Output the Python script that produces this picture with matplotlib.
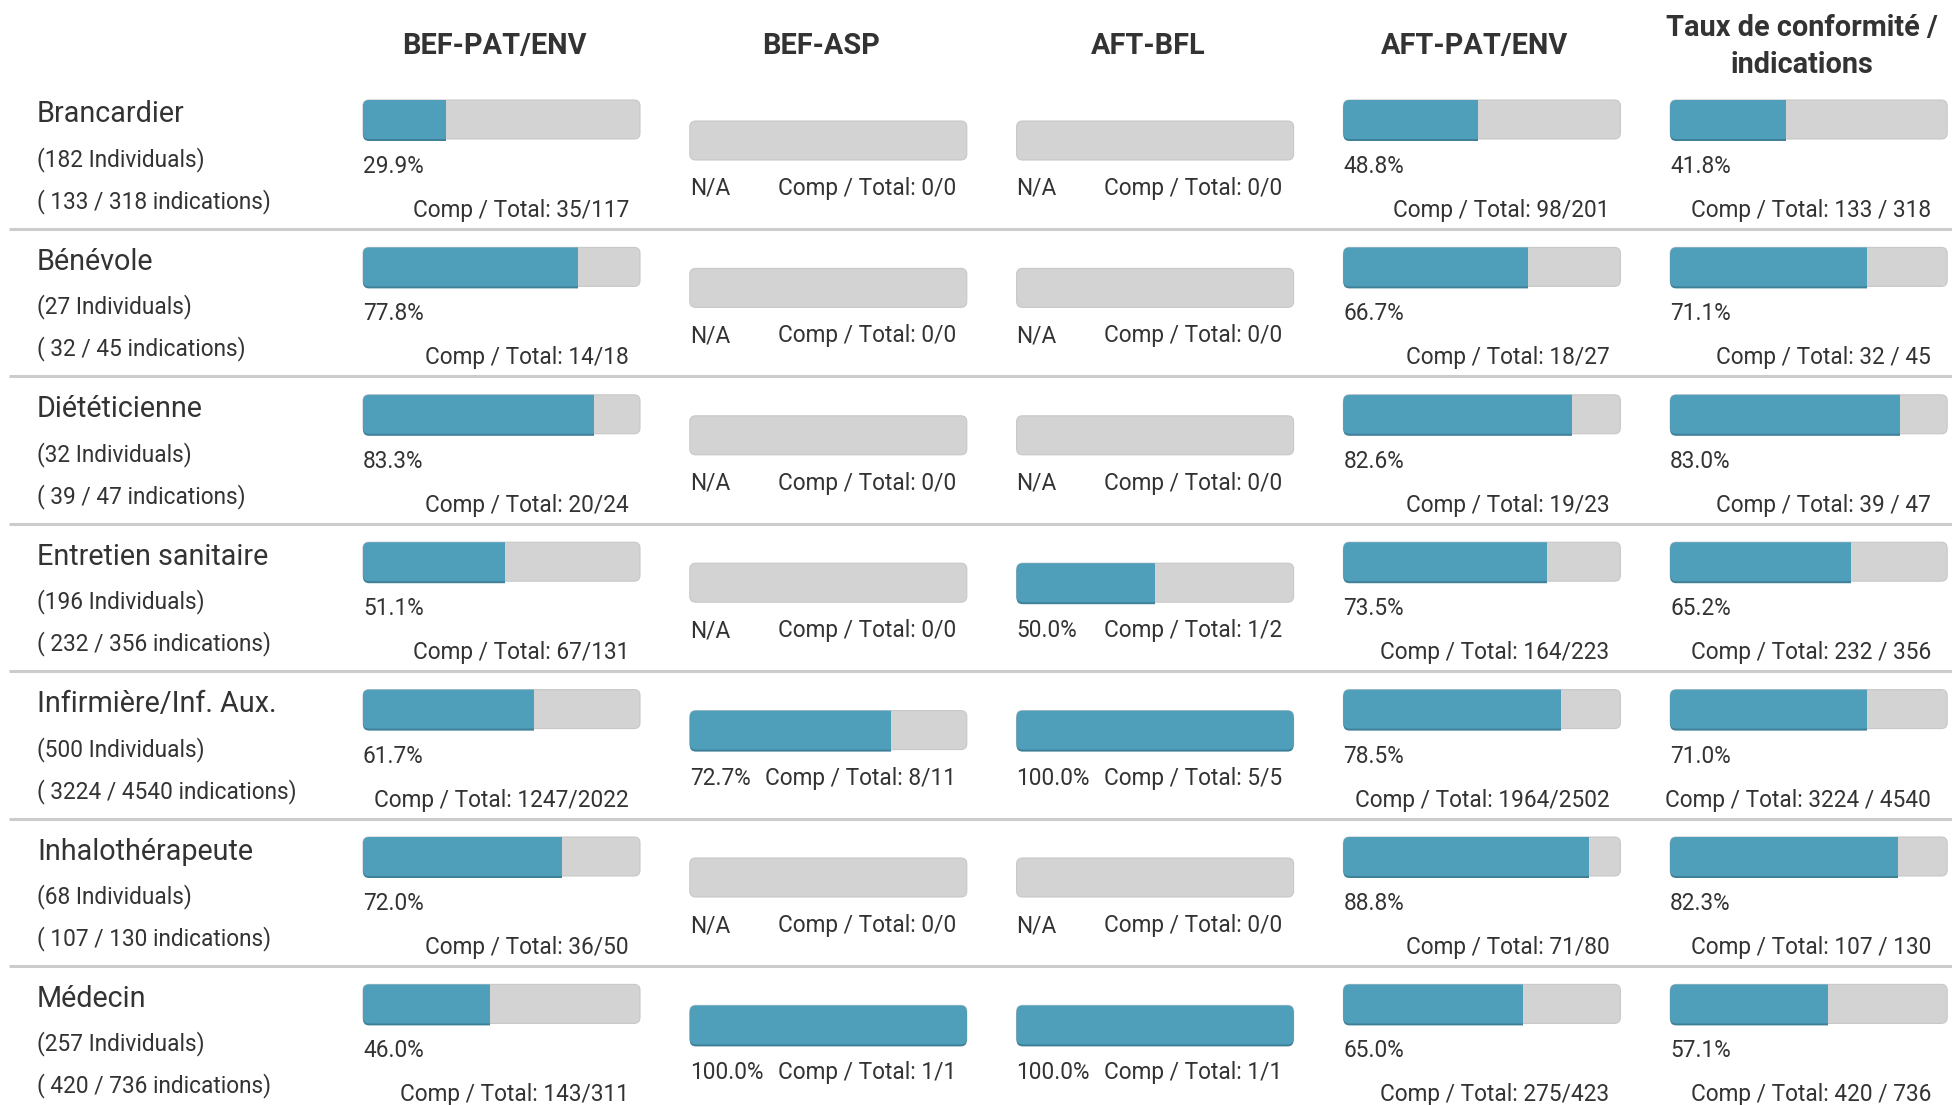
import matplotlib
matplotlib.use("Agg")
import matplotlib.pyplot as plt
from matplotlib.patches import FancyBboxPatch, Rectangle

plt.rcParams['font.family'] = ['Roboto', 'DejaVu Sans']

# données
roles = ["Brancardier", "Bénévole", "Diététicienne", "Entretien sanitaire",
         "Infirmière/Inf. Aux.", "Inhalothérapeute", "Médecin"]
individuals = [182, 27, 32, 196, 500, 68, 257]

columns = ["BEF-PAT/ENV", "BEF-ASP", "AFT-BFL", "AFT-PAT/ENV",
           "Taux de conformité /\nindications"]

bef_pat_comp = [35, 14, 20, 67, 1247, 36, 143]
bef_pat_total = [117, 18, 24, 131, 2022, 50, 311]
bef_asp_comp = [0, 0, 0, 0, 8, 0, 1]
bef_asp_total = [0, 0, 0, 0, 11, 0, 1]
aft_bfl_comp = [0, 0, 0, 1, 5, 0, 1]
aft_bfl_total = [0, 0, 0, 2, 5, 0, 1]
aft_pat_comp = [98, 18, 19, 164, 1964, 71, 275]
aft_pat_total = [201, 27, 23, 223, 2502, 80, 423]
taux_comp = [133, 32, 39, 232, 3224, 107, 420]
taux_total = [318, 45, 47, 356, 4540, 130, 736]

comps = [bef_pat_comp, bef_asp_comp, aft_bfl_comp, aft_pat_comp, taux_comp]
totals = [bef_pat_total, bef_asp_total, aft_bfl_total, aft_pat_total, taux_total]
inline_cols = [False, True, True, False, False]

W, H = 1952, 1105
fig = plt.figure(figsize=(W / 100, H / 100), dpi=100)
ax = fig.add_axes([0, 0, 1, 1])
ax.set_xlim(0, W)
ax.set_ylim(H, 0)
ax.axis('off')

txt = '#333333'
blue = '#4f9fbb'
blue_dark = '#3f8099'
grey = '#d3d3d3'
fs_small = 16.3

row_top0, row_h = 82, 147.4
col_left0, col_step, bar_w, bar_h = 363, 326.8, 277, 39
comp_pad = [11, 11, 11, 11, 16]

# en-têtes
for c, name in enumerate(columns):
    cx = col_left0 + c * col_step + bar_w / 2 - 7
    ax.text(cx, 46.5, name, ha='center', va='center', fontsize=20.8,
            fontweight='bold', color=txt, linespacing=1.45)


def draw_bar(x, y, frac):
    bg = FancyBboxPatch((x, y), bar_w, bar_h, boxstyle="round,pad=0,rounding_size=6",
                        fc=grey, ec='#c8c8c8', lw=0.8, zorder=2)
    ax.add_patch(bg)
    if frac > 0:
        # ombre en bas de la barre
        sh = FancyBboxPatch((x, y + 2), bar_w, bar_h, boxstyle="round,pad=0,rounding_size=6",
                            fc=blue_dark, ec='none', zorder=3)
        fg = FancyBboxPatch((x, y), bar_w, bar_h, boxstyle="round,pad=0,rounding_size=6",
                            fc=blue, ec='none', zorder=4)
        clip = Rectangle((x - 1, y - 1), bar_w * frac + 1, bar_h + 4, transform=ax.transData)
        ax.add_patch(sh)
        ax.add_patch(fg)
        sh.set_clip_path(clip)
        fg.set_clip_path(clip)


for r, role in enumerate(roles):
    y0 = row_top0 + r * row_h
    ax.text(37, y0 + 32.5, role, ha='left', va='center', fontsize=20.7, color=txt)
    ax.text(37, y0 + 77.5, "(%d Individuals)" % individuals[r], ha='left', va='center',
            fontsize=fs_small, color=txt)
    ax.text(37, y0 + 119.5, "( %d / %d indications)" % (taux_comp[r], taux_total[r]),
            ha='left', va='center', fontsize=fs_small, color=txt)
    if r < len(roles) - 1:
        ax.plot([9, W], [y0 + 147, y0 + 147], color='#cccccc', lw=2.2, zorder=1,
                solid_capstyle='butt')

    for c in range(len(columns)):
        comp, tot = comps[c][r], totals[c][r]
        frac = comp / tot if tot else 0
        pct = "%.1f%%" % (100 * frac) if tot else "N/A"
        if c == 4:
            ct = "Comp / Total: %d / %d" % (comp, tot)
        else:
            ct = "Comp / Total: %d/%d" % (comp, tot)
        x = col_left0 + c * col_step
        if inline_cols[c]:
            draw_bar(x, y0 + 39, frac)
            ax.text(x, y0 + 106.5, pct, ha='left', va='center', fontsize=fs_small, color=txt)
            ax.text(x + bar_w - comp_pad[c], y0 + 106.5, ct, ha='right', va='center',
                    fontsize=fs_small, color=txt)
        else:
            draw_bar(x, y0 + 18, frac)
            ax.text(x, y0 + 84.5, pct, ha='left', va='center', fontsize=fs_small, color=txt)
            ax.text(x + bar_w - comp_pad[c], y0 + 128.5, ct, ha='right', va='center',
                    fontsize=fs_small, color=txt)

fig.savefig("out.png", dpi=100)
